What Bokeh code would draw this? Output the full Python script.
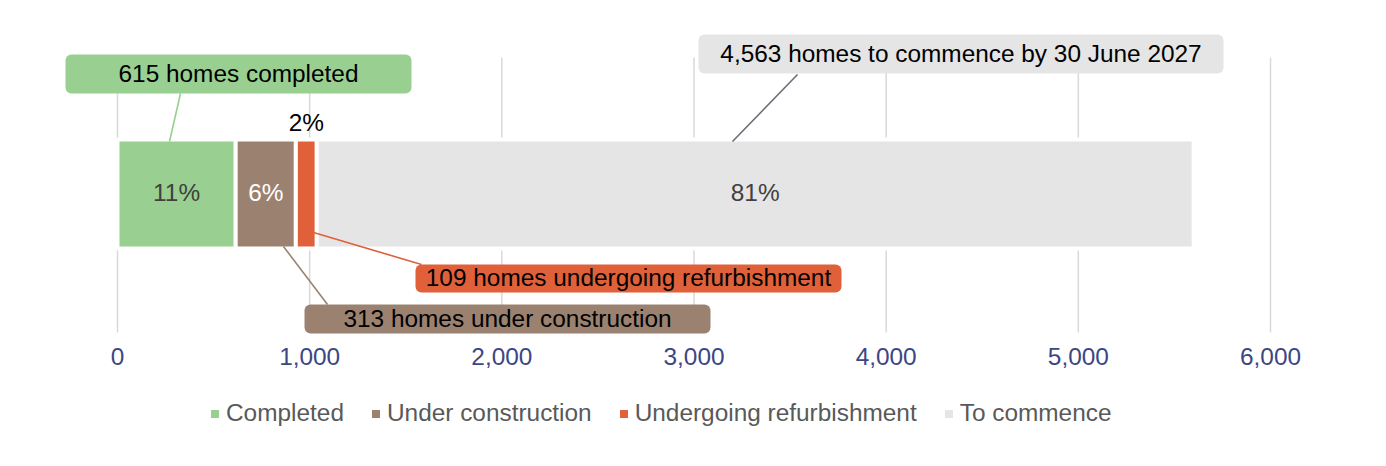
from bokeh.plotting import figure
from bokeh.models import (Range1d, FixedTicker, BoxAnnotation, Label, Legend,
                          LegendItem, NumeralTickFormatter, ColumnDataSource)
from bokeh.embed import file_html
from bokeh.resources import INLINE
from bokeh.core.properties import value

# ---------------- data ----------------
categories = ["Completed", "Under construction", "Undergoing refurbishment", "To commence"]
homes = [615, 313, 109, 4563]
colors = ["#99cf91", "#9b8270", "#e0603a", "#e5e5e5"]
pct_colors = ["#404040", "#ffffff", "#000000", "#404040"]
callout_texts = ["615 homes completed", "313 homes under construction",
                 "109 homes undergoing refurbishment",
                 "4,563 homes to commence by 30 June 2027"]
x_ticks = [0, 1000, 2000, 3000, 4000, 5000, 6000]

# ---------------- layout helpers (picture px -> data) ----------------
FONT = "Liberation Sans"
FS = "24.4px"
W, H = 1370, 450
K = 1153 / 6000.0            # px per home
PAGE_X0 = 117                # picture x of value 0


def X(px):
    return (px - PAGE_X0) / K


def Y(py):
    return H - py


total = sum(homes)
lefts, rights = [], []
acc = 0
for v in homes:
    lefts.append(acc)
    acc += v
    rights.append(acc)
centers = [(a + b) / 2 for a, b in zip(lefts, rights)]
pcts = [f"{round(v / total * 100)}%" for v in homes]

p = figure(width=W, height=H, output_backend="svg", toolbar_location=None,
           x_range=Range1d(X(0), X(W)), y_range=Range1d(0, H),
           min_border_left=0, min_border_right=0, min_border_top=0, min_border_bottom=0)
p.outline_line_color = None
p.grid.visible = False
p.yaxis.visible = False
p.background_fill_color = "white"
p.border_fill_color = "white"

# gridlines
p.segment(x0=x_ticks, x1=x_ticks, y0=Y(332), y1=Y(57), line_color="#d9d9d9", line_width=1.5)

bar_y = Y(193.5)
src = ColumnDataSource(dict(cat=categories, left=lefts, right=rights, color=colors))
bars = p.hbar(y=bar_y, left="left", right="right", height=109, fill_color="color",
              line_color="white", line_width=4, source=src)

# leader lines
lead = dict(
    x0=[X(180), X(283), X(313), X(797)],
    y0=[Y(93), Y(246), Y(232), Y(74)],
    x1=[X(169), X(327), X(421), X(732)],
    y1=[Y(141), Y(304), Y(264), Y(141)],
    c=["#99cf91", "#9b8270", "#e0603a", "#6f6b7a"],
)
p.segment(x0="x0", y0="y0", x1="x1", y1="y1", line_color="c", line_width=1.6,
          source=ColumnDataSource(lead))

# percentage labels
pct_y = [Y(192), Y(192), Y(121.5), Y(192)]
p.text(x=centers, y=pct_y, text=pcts, text_color=pct_colors, text_align="center",
       text_baseline="middle", text_font=value(FONT), text_font_size=FS)

# callout boxes
boxes = [(65, 411, 54, 93), (304, 710, 304, 333), (415, 841, 264, 292), (698, 1223, 34, 73)]
for (l, r, t, b), c, txt in zip(boxes, colors, callout_texts):
    p.add_layout(BoxAnnotation(left=X(l), right=X(r), top=Y(t), bottom=Y(b),
                               fill_color=c, fill_alpha=1, line_alpha=0, border_radius=6))
    p.add_layout(Label(x=X((l + r) / 2), y=Y((t + b) / 2 - 1), text=txt, text_align="center",
                       text_baseline="middle", text_font=FONT, text_font_size=FS,
                       text_color="#000000"))

# axis (drawn at a fixed position inside the frame)
ax = p.xaxis[0]
ax.fixed_location = Y(340)
ax.ticker = FixedTicker(ticks=x_ticks)
ax.formatter = NumeralTickFormatter(format="0,0")
ax.axis_line_color = None
ax.major_tick_line_color = None
ax.minor_tick_line_color = None
ax.major_label_standoff = 1
ax.major_label_text_font = FONT
ax.major_label_text_font_size = FS
ax.major_label_text_color = "#3c4685"

# legend
items = [LegendItem(label=cat, renderers=[bars], index=i) for i, cat in enumerate(categories)]
legend = Legend(items=items, location=(207, H - 427), orientation="horizontal",
                padding=0, margin=0, spacing=24, label_standoff=4,
                glyph_width=15, glyph_height=15, label_height=28,
                label_text_font=FONT, label_text_font_size=FS,
                label_text_color="#595959", border_line_alpha=0,
                background_fill_alpha=0)
p.add_layout(legend)

open("out.html", "w").write(file_html(p, INLINE))
